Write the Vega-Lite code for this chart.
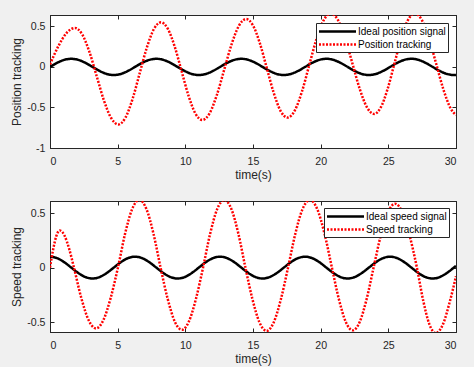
{
  "$schema": "https://vega.github.io/schema/vega-lite/v6.json",
  "background": "#f0f0f0",
  "padding": {"left": 10, "top": 10, "right": 16, "bottom": 2},
  "spacing": 15,
  "config": {
    "font": "Liberation Sans",
    "view": {"stroke": "#262626", "fill": "white"},
    "axis": {
      "grid": false,
      "minExtent": 0,
      "domainColor": "#262626",
      "tickColor": "#262626",
      "tickSize": -4,
      "labelColor": "#262626",
      "labelFont": "Liberation Sans",
      "labelFontSize": 10.6,
      "labelExpr": "'' + datum.value",
      "titleFont": "Liberation Sans",
      "titleFontSize": 12,
      "titleFontWeight": "normal",
      "titleColor": "#262626"
    },
    "axisX": {"labelPadding": 12.5, "titlePadding": 2},
    "axisY": {"labelPadding": 9, "titlePadding": 3},
    "legend": {
      "orient": "top-right",
      "offset": 8,
      "fillColor": "white",
      "strokeColor": "#262626",
      "padding": 2,
      "rowPadding": 1,
      "labelFont": "Liberation Sans",
      "labelFontSize": 10,
      "labelColor": "#000000",
      "symbolType": "M-3.7,0H3.7",
      "symbolSize": 100,
      "symbolStrokeWidth": 2.5,
      "symbolOffset": 13,
      "labelOffset": 14
    }
  },
  "datasets": {
    "pos": [
      {"t": 0, "v": 0, "s": "Ideal position signal"},
      {"t": 0.524, "v": 0.05, "s": "Ideal position signal"},
      {"t": 1.047, "v": 0.0866, "s": "Ideal position signal"},
      {"t": 1.571, "v": 0.1, "s": "Ideal position signal"},
      {"t": 2.094, "v": 0.0866, "s": "Ideal position signal"},
      {"t": 2.618, "v": 0.05, "s": "Ideal position signal"},
      {"t": 3.142, "v": 0, "s": "Ideal position signal"},
      {"t": 3.665, "v": -0.05, "s": "Ideal position signal"},
      {"t": 4.189, "v": -0.0866, "s": "Ideal position signal"},
      {"t": 4.712, "v": -0.1, "s": "Ideal position signal"},
      {"t": 5.236, "v": -0.0866, "s": "Ideal position signal"},
      {"t": 5.76, "v": -0.05, "s": "Ideal position signal"},
      {"t": 6.283, "v": 0, "s": "Ideal position signal"},
      {"t": 6.807, "v": 0.05, "s": "Ideal position signal"},
      {"t": 7.33, "v": 0.0866, "s": "Ideal position signal"},
      {"t": 7.854, "v": 0.1, "s": "Ideal position signal"},
      {"t": 8.378, "v": 0.0866, "s": "Ideal position signal"},
      {"t": 8.901, "v": 0.05, "s": "Ideal position signal"},
      {"t": 9.425, "v": 0, "s": "Ideal position signal"},
      {"t": 9.948, "v": -0.05, "s": "Ideal position signal"},
      {"t": 10.472, "v": -0.0866, "s": "Ideal position signal"},
      {"t": 10.996, "v": -0.1, "s": "Ideal position signal"},
      {"t": 11.519, "v": -0.0866, "s": "Ideal position signal"},
      {"t": 12.043, "v": -0.05, "s": "Ideal position signal"},
      {"t": 12.566, "v": 0, "s": "Ideal position signal"},
      {"t": 13.09, "v": 0.05, "s": "Ideal position signal"},
      {"t": 13.614, "v": 0.0866, "s": "Ideal position signal"},
      {"t": 14.137, "v": 0.1, "s": "Ideal position signal"},
      {"t": 14.661, "v": 0.0866, "s": "Ideal position signal"},
      {"t": 15.184, "v": 0.05, "s": "Ideal position signal"},
      {"t": 15.708, "v": 0, "s": "Ideal position signal"},
      {"t": 16.232, "v": -0.05, "s": "Ideal position signal"},
      {"t": 16.755, "v": -0.0866, "s": "Ideal position signal"},
      {"t": 17.279, "v": -0.1, "s": "Ideal position signal"},
      {"t": 17.802, "v": -0.0866, "s": "Ideal position signal"},
      {"t": 18.326, "v": -0.05, "s": "Ideal position signal"},
      {"t": 18.85, "v": 0, "s": "Ideal position signal"},
      {"t": 19.373, "v": 0.05, "s": "Ideal position signal"},
      {"t": 19.897, "v": 0.0866, "s": "Ideal position signal"},
      {"t": 20.42, "v": 0.1, "s": "Ideal position signal"},
      {"t": 20.944, "v": 0.0866, "s": "Ideal position signal"},
      {"t": 21.468, "v": 0.05, "s": "Ideal position signal"},
      {"t": 21.991, "v": 0, "s": "Ideal position signal"},
      {"t": 22.515, "v": -0.05, "s": "Ideal position signal"},
      {"t": 23.038, "v": -0.0866, "s": "Ideal position signal"},
      {"t": 23.562, "v": -0.1, "s": "Ideal position signal"},
      {"t": 24.086, "v": -0.0866, "s": "Ideal position signal"},
      {"t": 24.609, "v": -0.05, "s": "Ideal position signal"},
      {"t": 25.133, "v": 0, "s": "Ideal position signal"},
      {"t": 25.656, "v": 0.05, "s": "Ideal position signal"},
      {"t": 26.18, "v": 0.0866, "s": "Ideal position signal"},
      {"t": 26.704, "v": 0.1, "s": "Ideal position signal"},
      {"t": 27.227, "v": 0.0866, "s": "Ideal position signal"},
      {"t": 27.751, "v": 0.05, "s": "Ideal position signal"},
      {"t": 28.274, "v": 0, "s": "Ideal position signal"},
      {"t": 28.798, "v": -0.05, "s": "Ideal position signal"},
      {"t": 29.322, "v": -0.0866, "s": "Ideal position signal"},
      {"t": 29.845, "v": -0.1, "s": "Ideal position signal"},
      {"t": 30, "v": -0.099, "s": "Ideal position signal"},
      {"t": 0, "v": 0.03, "s": "Position tracking"},
      {"t": 0.617, "v": 0.255, "s": "Position tracking"},
      {"t": 1.233, "v": 0.42, "s": "Position tracking"},
      {"t": 1.85, "v": 0.48, "s": "Position tracking"},
      {"t": 2.383, "v": 0.4, "s": "Position tracking"},
      {"t": 2.917, "v": 0.183, "s": "Position tracking"},
      {"t": 3.45, "v": -0.115, "s": "Position tracking"},
      {"t": 3.983, "v": -0.413, "s": "Position tracking"},
      {"t": 4.517, "v": -0.63, "s": "Position tracking"},
      {"t": 5.05, "v": -0.71, "s": "Position tracking"},
      {"t": 5.575, "v": -0.626, "s": "Position tracking"},
      {"t": 6.1, "v": -0.395, "s": "Position tracking"},
      {"t": 6.625, "v": -0.08, "s": "Position tracking"},
      {"t": 7.15, "v": 0.235, "s": "Position tracking"},
      {"t": 7.675, "v": 0.466, "s": "Position tracking"},
      {"t": 8.2, "v": 0.55, "s": "Position tracking"},
      {"t": 8.708, "v": 0.469, "s": "Position tracking"},
      {"t": 9.217, "v": 0.249, "s": "Position tracking"},
      {"t": 9.725, "v": -0.053, "s": "Position tracking"},
      {"t": 10.233, "v": -0.354, "s": "Position tracking"},
      {"t": 10.742, "v": -0.574, "s": "Position tracking"},
      {"t": 11.25, "v": -0.655, "s": "Position tracking"},
      {"t": 11.792, "v": -0.572, "s": "Position tracking"},
      {"t": 12.333, "v": -0.344, "s": "Position tracking"},
      {"t": 12.875, "v": -0.033, "s": "Position tracking"},
      {"t": 13.417, "v": 0.279, "s": "Position tracking"},
      {"t": 13.958, "v": 0.507, "s": "Position tracking"},
      {"t": 14.5, "v": 0.59, "s": "Position tracking"},
      {"t": 15.008, "v": 0.509, "s": "Position tracking"},
      {"t": 15.517, "v": 0.286, "s": "Position tracking"},
      {"t": 16.025, "v": -0.018, "s": "Position tracking"},
      {"t": 16.533, "v": -0.321, "s": "Position tracking"},
      {"t": 17.042, "v": -0.544, "s": "Position tracking"},
      {"t": 17.55, "v": -0.625, "s": "Position tracking"},
      {"t": 18.083, "v": -0.539, "s": "Position tracking"},
      {"t": 18.617, "v": -0.304, "s": "Position tracking"},
      {"t": 19.15, "v": 0.018, "s": "Position tracking"},
      {"t": 19.683, "v": 0.339, "s": "Position tracking"},
      {"t": 20.217, "v": 0.574, "s": "Position tracking"},
      {"t": 20.75, "v": 0.66, "s": "Position tracking"},
      {"t": 21.283, "v": 0.577, "s": "Position tracking"},
      {"t": 21.817, "v": 0.35, "s": "Position tracking"},
      {"t": 22.35, "v": 0.04, "s": "Position tracking"},
      {"t": 22.883, "v": -0.27, "s": "Position tracking"},
      {"t": 23.417, "v": -0.497, "s": "Position tracking"},
      {"t": 23.95, "v": -0.58, "s": "Position tracking"},
      {"t": 24.45, "v": -0.497, "s": "Position tracking"},
      {"t": 24.95, "v": -0.27, "s": "Position tracking"},
      {"t": 25.45, "v": 0.04, "s": "Position tracking"},
      {"t": 25.95, "v": 0.35, "s": "Position tracking"},
      {"t": 26.45, "v": 0.577, "s": "Position tracking"},
      {"t": 26.95, "v": 0.66, "s": "Position tracking"},
      {"t": 27.483, "v": 0.576, "s": "Position tracking"},
      {"t": 28.017, "v": 0.345, "s": "Position tracking"},
      {"t": 28.55, "v": 0.03, "s": "Position tracking"},
      {"t": 29.083, "v": -0.285, "s": "Position tracking"},
      {"t": 29.617, "v": -0.516, "s": "Position tracking"},
      {"t": 30, "v": -0.593, "s": "Position tracking"}
    ],
    "spd": [
      {"t": 0, "v": 0.1, "s": "Ideal speed signal"},
      {"t": 0.524, "v": 0.0866, "s": "Ideal speed signal"},
      {"t": 1.047, "v": 0.05, "s": "Ideal speed signal"},
      {"t": 1.571, "v": 0, "s": "Ideal speed signal"},
      {"t": 2.094, "v": -0.05, "s": "Ideal speed signal"},
      {"t": 2.618, "v": -0.0866, "s": "Ideal speed signal"},
      {"t": 3.142, "v": -0.1, "s": "Ideal speed signal"},
      {"t": 3.665, "v": -0.0866, "s": "Ideal speed signal"},
      {"t": 4.189, "v": -0.05, "s": "Ideal speed signal"},
      {"t": 4.712, "v": 0, "s": "Ideal speed signal"},
      {"t": 5.236, "v": 0.05, "s": "Ideal speed signal"},
      {"t": 5.76, "v": 0.0866, "s": "Ideal speed signal"},
      {"t": 6.283, "v": 0.1, "s": "Ideal speed signal"},
      {"t": 6.807, "v": 0.0866, "s": "Ideal speed signal"},
      {"t": 7.33, "v": 0.05, "s": "Ideal speed signal"},
      {"t": 7.854, "v": 0, "s": "Ideal speed signal"},
      {"t": 8.378, "v": -0.05, "s": "Ideal speed signal"},
      {"t": 8.901, "v": -0.0866, "s": "Ideal speed signal"},
      {"t": 9.425, "v": -0.1, "s": "Ideal speed signal"},
      {"t": 9.948, "v": -0.0866, "s": "Ideal speed signal"},
      {"t": 10.472, "v": -0.05, "s": "Ideal speed signal"},
      {"t": 10.996, "v": 0, "s": "Ideal speed signal"},
      {"t": 11.519, "v": 0.05, "s": "Ideal speed signal"},
      {"t": 12.043, "v": 0.0866, "s": "Ideal speed signal"},
      {"t": 12.566, "v": 0.1, "s": "Ideal speed signal"},
      {"t": 13.09, "v": 0.0866, "s": "Ideal speed signal"},
      {"t": 13.614, "v": 0.05, "s": "Ideal speed signal"},
      {"t": 14.137, "v": 0, "s": "Ideal speed signal"},
      {"t": 14.661, "v": -0.05, "s": "Ideal speed signal"},
      {"t": 15.184, "v": -0.0866, "s": "Ideal speed signal"},
      {"t": 15.708, "v": -0.1, "s": "Ideal speed signal"},
      {"t": 16.232, "v": -0.0866, "s": "Ideal speed signal"},
      {"t": 16.755, "v": -0.05, "s": "Ideal speed signal"},
      {"t": 17.279, "v": 0, "s": "Ideal speed signal"},
      {"t": 17.802, "v": 0.05, "s": "Ideal speed signal"},
      {"t": 18.326, "v": 0.0866, "s": "Ideal speed signal"},
      {"t": 18.85, "v": 0.1, "s": "Ideal speed signal"},
      {"t": 19.373, "v": 0.0866, "s": "Ideal speed signal"},
      {"t": 19.897, "v": 0.05, "s": "Ideal speed signal"},
      {"t": 20.42, "v": 0, "s": "Ideal speed signal"},
      {"t": 20.944, "v": -0.05, "s": "Ideal speed signal"},
      {"t": 21.468, "v": -0.0866, "s": "Ideal speed signal"},
      {"t": 21.991, "v": -0.1, "s": "Ideal speed signal"},
      {"t": 22.515, "v": -0.0866, "s": "Ideal speed signal"},
      {"t": 23.038, "v": -0.05, "s": "Ideal speed signal"},
      {"t": 23.562, "v": 0, "s": "Ideal speed signal"},
      {"t": 24.086, "v": 0.05, "s": "Ideal speed signal"},
      {"t": 24.609, "v": 0.0866, "s": "Ideal speed signal"},
      {"t": 25.133, "v": 0.1, "s": "Ideal speed signal"},
      {"t": 25.656, "v": 0.0866, "s": "Ideal speed signal"},
      {"t": 26.18, "v": 0.05, "s": "Ideal speed signal"},
      {"t": 26.704, "v": 0, "s": "Ideal speed signal"},
      {"t": 27.227, "v": -0.05, "s": "Ideal speed signal"},
      {"t": 27.751, "v": -0.0866, "s": "Ideal speed signal"},
      {"t": 28.274, "v": -0.1, "s": "Ideal speed signal"},
      {"t": 28.798, "v": -0.0866, "s": "Ideal speed signal"},
      {"t": 29.322, "v": -0.05, "s": "Ideal speed signal"},
      {"t": 29.845, "v": 0, "s": "Ideal speed signal"},
      {"t": 30, "v": 0.015, "s": "Ideal speed signal"},
      {"t": 0, "v": 0, "s": "Speed tracking"},
      {"t": 0.24, "v": 0.17, "s": "Speed tracking"},
      {"t": 0.48, "v": 0.294, "s": "Speed tracking"},
      {"t": 0.72, "v": 0.34, "s": "Speed tracking"},
      {"t": 1.07, "v": 0.294, "s": "Speed tracking"},
      {"t": 1.42, "v": 0.17, "s": "Speed tracking"},
      {"t": 1.77, "v": 0, "s": "Speed tracking"},
      {"t": 2.313, "v": -0.279, "s": "Speed tracking"},
      {"t": 2.857, "v": -0.482, "s": "Speed tracking"},
      {"t": 3.4, "v": -0.557, "s": "Speed tracking"},
      {"t": 3.94, "v": -0.482, "s": "Speed tracking"},
      {"t": 4.48, "v": -0.279, "s": "Speed tracking"},
      {"t": 5.02, "v": 0, "s": "Speed tracking"},
      {"t": 5.547, "v": 0.31, "s": "Speed tracking"},
      {"t": 6.073, "v": 0.537, "s": "Speed tracking"},
      {"t": 6.6, "v": 0.62, "s": "Speed tracking"},
      {"t": 7.123, "v": 0.537, "s": "Speed tracking"},
      {"t": 7.647, "v": 0.31, "s": "Speed tracking"},
      {"t": 8.17, "v": 0, "s": "Speed tracking"},
      {"t": 8.693, "v": -0.285, "s": "Speed tracking"},
      {"t": 9.217, "v": -0.494, "s": "Speed tracking"},
      {"t": 9.74, "v": -0.57, "s": "Speed tracking"},
      {"t": 10.263, "v": -0.494, "s": "Speed tracking"},
      {"t": 10.787, "v": -0.285, "s": "Speed tracking"},
      {"t": 11.31, "v": 0, "s": "Speed tracking"},
      {"t": 11.833, "v": 0.31, "s": "Speed tracking"},
      {"t": 12.357, "v": 0.537, "s": "Speed tracking"},
      {"t": 12.88, "v": 0.62, "s": "Speed tracking"},
      {"t": 13.4, "v": 0.537, "s": "Speed tracking"},
      {"t": 13.92, "v": 0.31, "s": "Speed tracking"},
      {"t": 14.44, "v": 0, "s": "Speed tracking"},
      {"t": 14.96, "v": -0.29, "s": "Speed tracking"},
      {"t": 15.48, "v": -0.502, "s": "Speed tracking"},
      {"t": 16.0, "v": -0.58, "s": "Speed tracking"},
      {"t": 16.53, "v": -0.502, "s": "Speed tracking"},
      {"t": 17.06, "v": -0.29, "s": "Speed tracking"},
      {"t": 17.59, "v": 0, "s": "Speed tracking"},
      {"t": 18.127, "v": 0.31, "s": "Speed tracking"},
      {"t": 18.663, "v": 0.537, "s": "Speed tracking"},
      {"t": 19.2, "v": 0.62, "s": "Speed tracking"},
      {"t": 19.743, "v": 0.537, "s": "Speed tracking"},
      {"t": 20.287, "v": 0.31, "s": "Speed tracking"},
      {"t": 20.83, "v": 0, "s": "Speed tracking"},
      {"t": 21.343, "v": -0.288, "s": "Speed tracking"},
      {"t": 21.857, "v": -0.498, "s": "Speed tracking"},
      {"t": 22.37, "v": -0.575, "s": "Speed tracking"},
      {"t": 22.883, "v": -0.498, "s": "Speed tracking"},
      {"t": 23.397, "v": -0.288, "s": "Speed tracking"},
      {"t": 23.91, "v": 0, "s": "Speed tracking"},
      {"t": 24.44, "v": 0.293, "s": "Speed tracking"},
      {"t": 24.97, "v": 0.507, "s": "Speed tracking"},
      {"t": 25.5, "v": 0.585, "s": "Speed tracking"},
      {"t": 26.037, "v": 0.507, "s": "Speed tracking"},
      {"t": 26.573, "v": 0.293, "s": "Speed tracking"},
      {"t": 27.11, "v": 0, "s": "Speed tracking"},
      {"t": 27.573, "v": -0.3, "s": "Speed tracking"},
      {"t": 28.037, "v": -0.52, "s": "Speed tracking"},
      {"t": 28.5, "v": -0.6, "s": "Speed tracking"},
      {"t": 29.033, "v": -0.52, "s": "Speed tracking"},
      {"t": 29.567, "v": -0.3, "s": "Speed tracking"},
      {"t": 30, "v": -0.08, "s": "Speed tracking"}
    ]
  },
  "vconcat": [
    {
      "width": 406,
      "height": 133,
      "data": {"name": "pos"},
      "layer": [
        {
          "mark": {"type": "line", "interpolate": "monotone", "clip": true, "strokeWidth": 2.5},
          "encoding": {
            "x": {"field": "t", "type": "quantitative", "scale": {"domain": [0, 30], "nice": false}, "axis": {"values": [0, 5, 10, 15, 20, 25, 30], "title": "time(s)"}},
            "y": {"field": "v", "type": "quantitative", "scale": {"domain": [-1, 0.64], "nice": false, "zero": false}, "axis": {"values": [-1, -0.5, 0, 0.5], "title": "Position tracking"}},
            "color": {"field": "s", "type": "nominal", "scale": {"domain": ["Ideal position signal", "Position tracking"], "range": ["#000000", "#ff0000"]}, "legend": {"title": null}},
            "strokeDash": {"field": "s", "type": "nominal", "scale": {"domain": ["Ideal position signal", "Position tracking"], "range": [[1, 0], [2, 1.5]]}, "legend": {"title": null}}
          }
        },
        {
          "mark": {"type": "point", "opacity": 0},
          "encoding": {
            "x": {"field": "t", "type": "quantitative", "axis": {"orient": "top", "values": [0, 5, 10, 15, 20, 25, 30], "labels": false, "title": null}},
            "y": {"field": "v", "type": "quantitative", "axis": {"orient": "right", "values": [-1, -0.5, 0, 0.5], "labels": false, "title": null}}
          }
        }
      ],
      "resolve": {"axis": {"x": "independent", "y": "independent"}}
    },
    {
      "width": 406,
      "height": 131,
      "data": {"name": "spd"},
      "layer": [
        {
          "mark": {"type": "line", "interpolate": "monotone", "clip": true, "strokeWidth": 2.5},
          "encoding": {
            "x": {"field": "t", "type": "quantitative", "scale": {"domain": [0, 30], "nice": false}, "axis": {"values": [0, 5, 10, 15, 20, 25, 30], "title": "time(s)"}},
            "y": {"field": "v", "type": "quantitative", "scale": {"domain": [-0.59, 0.61], "nice": false, "zero": false}, "axis": {"values": [-0.5, 0, 0.5], "title": "Speed tracking"}},
            "color": {"field": "s", "type": "nominal", "scale": {"domain": ["Ideal speed signal", "Speed tracking"], "range": ["#000000", "#ff0000"]}, "legend": {"title": null, "offset": 7}},
            "strokeDash": {"field": "s", "type": "nominal", "scale": {"domain": ["Ideal speed signal", "Speed tracking"], "range": [[1, 0], [2, 1.5]]}, "legend": {"title": null, "offset": 7}}
          }
        },
        {
          "mark": {"type": "point", "opacity": 0},
          "encoding": {
            "x": {"field": "t", "type": "quantitative", "axis": {"orient": "top", "values": [0, 5, 10, 15, 20, 25, 30], "labels": false, "title": null}},
            "y": {"field": "v", "type": "quantitative", "axis": {"orient": "right", "values": [-0.5, 0, 0.5], "labels": false, "title": null}}
          }
        }
      ],
      "resolve": {"axis": {"x": "independent", "y": "independent"}}
    }
  ],
  "resolve": {
    "scale": {"y": "independent", "color": "independent", "strokeDash": "independent"},
    "legend": {"color": "independent", "strokeDash": "independent"}
  }
}
